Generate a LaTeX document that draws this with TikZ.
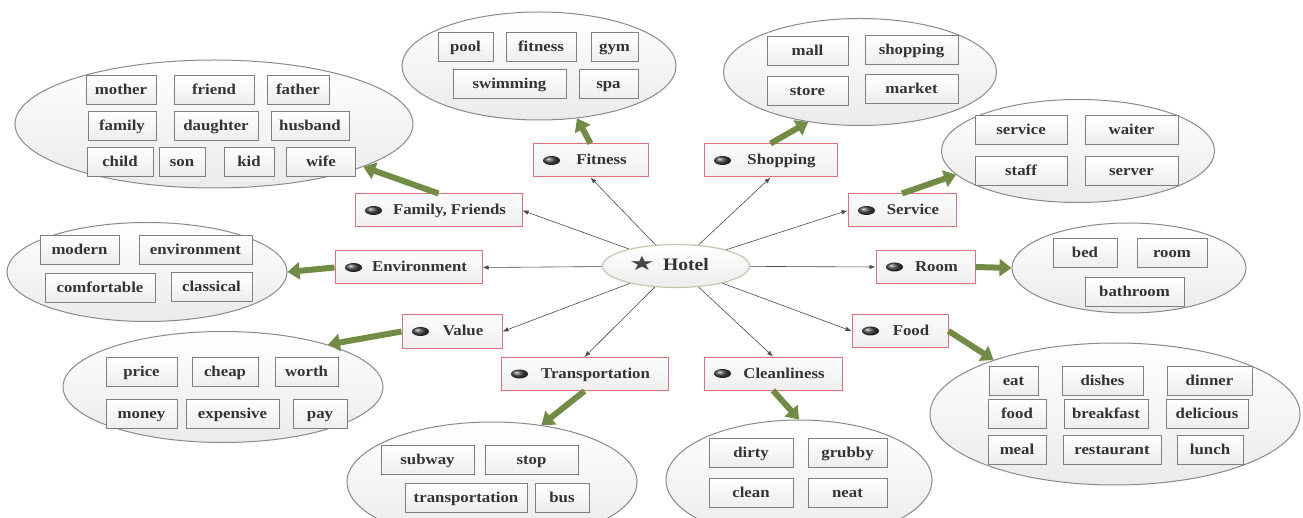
\documentclass[tikz,border=0pt]{standalone}
\usepackage{fontspec}
\setmainfont{Liberation Serif}[FakeStretch=1.12]
\newfontfamily\symfont{DejaVu Sans}
\usetikzlibrary{arrows.meta,shapes.geometric}
\definecolor{catred}{HTML}{E0707A}
\definecolor{arrgreen}{HTML}{738C45}
\definecolor{txt}{HTML}{333333}
\definecolor{ellborder}{HTML}{8A8A8A}
\definecolor{boxborder}{HTML}{7F7F7F}
\definecolor{hotelborder}{HTML}{C5C8B0}
\begin{document}
\begin{tikzpicture}[x=1pt,y=-1pt,
  every node/.style={font=\fontsize{15}{15}\selectfont\bfseries, text=txt},
  wordcloud/.style={ellipse, draw=ellborder, line width=1pt, top color=white, bottom color=gray!16, inner sep=0pt},
  word/.style={rectangle, draw=boxborder, line width=1pt, top color=white, bottom color=gray!14, minimum height=29pt, inner sep=0pt, text height=11pt, text depth=2pt},
  cat/.style={rectangle, draw=catred, line width=1pt, top color=gray!3, bottom color=gray!12, minimum height=33pt, inner sep=0pt, text height=11pt, text depth=2pt},
  link/.style={draw=black!70, line width=0.6pt, -{Latex[length=6pt,width=4.5pt]}},
  greenarrow/.style={draw=arrgreen, line width=6pt, -{Triangle[length=12pt,width=17pt]}},
]
\fill[white] (0,0) rectangle (1303,518);
\useasboundingbox (0,0) rectangle (1303,518);
\clip (0,0) rectangle (1303,518);

% word clouds
\node[wordcloud, minimum width=398pt, minimum height=128pt] (famE) at (214,124) {};
\node[wordcloud, minimum width=274pt, minimum height=108pt] (fitE) at (539,66) {};
\node[wordcloud, minimum width=273pt, minimum height=107pt] (shopE) at (860,72) {};
\node[wordcloud, minimum width=273pt, minimum height=103pt] (servE) at (1078,151) {};
\node[wordcloud, minimum width=234pt, minimum height=90pt] (roomE) at (1129,268) {};
\node[wordcloud, minimum width=370pt, minimum height=142pt] (foodE) at (1115,414) {};
\node[wordcloud, minimum width=280pt, minimum height=99pt] (envE) at (147,272) {};
\node[wordcloud, minimum width=320pt, minimum height=111pt] (valE) at (223,387) {};
\node[wordcloud, minimum width=290pt, minimum height=120pt] (transE) at (492,482) {};
\node[wordcloud, minimum width=266pt, minimum height=120pt] (cleanE) at (799,480) {};

% family words
\node[word, minimum width=70pt] (f1) at (121,90.5) {mother};
\node[word, minimum width=80pt] (f2) at (214,90.5) {friend};
\node[word, minimum width=62pt] (f3) at (298,90.5) {father};
\node[word, minimum width=68pt] (f4) at (122,126) {family};
\node[word, minimum width=84pt] (f5) at (216,126) {daughter};
\node[word, minimum width=78pt] (f6) at (310,126) {husband};
\node[word, minimum width=66pt] (f7) at (120,162) {child};
\node[word, minimum width=46pt] (f8) at (182,162) {son};
\node[word, minimum width=50pt] (f9) at (249,162) {kid};
\node[word, minimum width=69pt] (f10) at (321,162) {wife};
% fitness words
\node[word, minimum width=55pt] (t1) at (465.5,47.5) {pool};
\node[word, minimum width=70pt] (t2) at (541,47.5) {fitness};
\node[word, minimum width=47pt] (t3) at (614.5,47.5) {gym};
\node[word, minimum width=113pt] (t4) at (509.5,84) {swimming};
\node[word, minimum width=59pt] (t5) at (608.5,84) {spa};
% shopping words
\node[word, minimum width=81pt] (s1) at (807.5,51) {mall};
\node[word, minimum width=93pt] (s2) at (911.5,50) {shopping};
\node[word, minimum width=81pt] (s3) at (807.5,91) {store};
\node[word, minimum width=93pt] (s4) at (911.5,89) {market};
% service words
\node[word, minimum width=92pt] (v1) at (1021,130.5) {service};
\node[word, minimum width=93pt] (v2) at (1131.5,130.5) {waiter};
\node[word, minimum width=92pt] (v3) at (1021,171.5) {staff};
\node[word, minimum width=93pt] (v4) at (1131.5,171.5) {server};
% room words
\node[word, minimum width=64pt] (r1) at (1085,253) {bed};
\node[word, minimum width=70pt] (r2) at (1172,253) {room};
\node[word, minimum width=99pt] (r3) at (1134.5,292) {bathroom};
% food words
\node[word, minimum width=49pt] (d1) at (1013.5,380.5) {eat};
\node[word, minimum width=81pt] (d2) at (1102.5,380.5) {dishes};
\node[word, minimum width=85pt] (d3) at (1209.5,380.5) {dinner};
\node[word, minimum width=58pt] (d4) at (1017,414) {food};
\node[word, minimum width=84pt] (d5) at (1106,414) {breakfast};
\node[word, minimum width=82pt] (d6) at (1207,414) {delicious};
\node[word, minimum width=58pt] (d7) at (1017,449.5) {meal};
\node[word, minimum width=98pt] (d8) at (1112,449.5) {restaurant};
\node[word, minimum width=66pt] (d9) at (1210,449.5) {lunch};
% environment words
\node[word, minimum width=79pt] (e1) at (79.5,250.5) {modern};
\node[word, minimum width=113pt] (e2) at (195.5,250.5) {environment};
\node[word, minimum width=110pt] (e3) at (100,288.5) {comfortable};
\node[word, minimum width=81pt] (e4) at (211.5,287.5) {classical};
% value words
\node[word, minimum width=71pt] (a1) at (141.5,372) {price};
\node[word, minimum width=66pt] (a2) at (225,372) {cheap};
\node[word, minimum width=63pt] (a3) at (306.5,372) {worth};
\node[word, minimum width=71pt] (a4) at (141.5,414) {money};
\node[word, minimum width=93pt] (a5) at (232.5,414) {expensive};
\node[word, minimum width=54pt] (a6) at (320,414) {pay};
% transportation words
\node[word, minimum width=93pt] (p1) at (427.5,460) {subway};
\node[word, minimum width=93pt] (p2) at (531.5,460) {stop};
\node[word, minimum width=122pt] (p3) at (466,498) {transportation};
\node[word, minimum width=54pt] (p4) at (562,498) {bus};
% cleanliness words
\node[word, minimum width=84pt] (c1) at (751,453) {dirty};
\node[word, minimum width=79pt] (c2) at (847.5,453) {grubby};
\node[word, minimum width=84pt] (c3) at (751,493) {clean};
\node[word, minimum width=79pt] (c4) at (847.5,493) {neat};

% hotel
\node[ellipse, draw=hotelborder, line width=1.2pt, top color=white, bottom color=gray!14, minimum width=147pt, minimum height=43pt, inner sep=0pt, text height=12pt, text depth=2pt] (hotel) at (676,266)
  {{\color{black!72}\scalebox{1.6}[1.1]{\symfont\fontsize{18}{18}\selectfont ★}}\hspace{8pt}{\fontsize{17.5}{17.5}\selectfont Hotel}\hspace*{14pt}};

% categories
\node[cat, minimum width=167pt] (fam) at (438.5,210.5) {\hspace*{22pt}Family, Friends};
\node[cat, minimum width=147pt] (env) at (408.5,267.5) {\hspace*{22pt}Environment};
\node[cat, minimum width=100pt] (val) at (452,331.5) {\hspace*{22pt}Value};
\node[cat, minimum width=167pt] (trans) at (584.5,374) {\hspace*{22pt}Transportation};
\node[cat, minimum width=138pt] (clean) at (773,373.5) {\hspace*{22pt}Cleanliness};
\node[cat, minimum width=96pt] (food) at (900,331) {\hspace*{22pt}Food};
\node[cat, minimum width=99pt] (room) at (925.5,267) {\hspace*{22pt}Room};
\node[cat, minimum width=108pt] (serv) at (902,210.5) {\hspace*{22pt}Service};
\node[cat, minimum width=115pt] (fit) at (590.5,160.5) {\hspace*{22pt}Fitness};
\node[cat, minimum width=133pt] (shop) at (770.5,160.5) {\hspace*{22pt}Shopping};

\foreach \c in {fam,env,val,trans,clean,food,room,serv,fit,shop}
  \shade[ball color=black!72] ([xshift=19pt]\c.west) ellipse (8.5pt and 4.5pt);

% hotel links
\foreach \t/\a in {fit/south,shop/south,fam/east,env/east,val/east,trans/north,clean/north,food/west,room/west,serv/west}
  \draw[link] (hotel) -- (\t.\a);

% green arrows
\draw[greenarrow] (fam.north) -- (famE.-16);
\draw[greenarrow] (fit.north) -- (fitE.-54);
\draw[greenarrow] (shop.north) -- (shopE.-136);
\draw[greenarrow] (serv.north) -- (servE.-169);
\draw[greenarrow] (room.east) -- (roomE.180);
\draw[greenarrow] (food.east) -- (foodE.156);
\draw[greenarrow] (clean.south) -- (cleanE.90);
\draw[greenarrow] (trans.south) -- (transE.49);
\draw[greenarrow] (val.west) -- (valE.22);
\draw[greenarrow] (env.west) -- (envE.0);
\end{tikzpicture}
\end{document}
